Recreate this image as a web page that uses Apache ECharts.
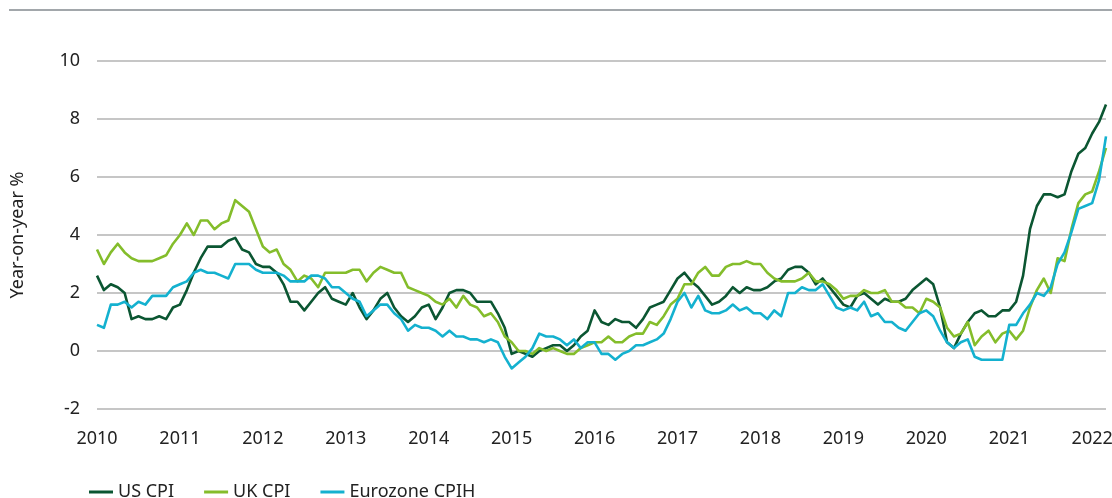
<!DOCTYPE html>
<html>
<head>
<meta charset="utf-8">
<script src="https://cdn.jsdelivr.net/npm/echarts@6/dist/echarts.min.js"></script>
<style>
html,body{margin:0;padding:0;background:#fff;}
#chart{width:1112px;height:498px;}
</style>
</head>
<body>
<div id="chart"></div>
<script>
// Monthly, Jan 2010 – Mar 2022
const startYear = 2010;
const monthCount = 147;
const categories = [];
for (let i = 0; i < monthCount; i++) {
  const y = startYear + Math.floor(i / 12);
  const m = (i % 12) + 1;
  categories.push(y + '-' + (m < 10 ? '0' + m : m));
}

const usCPI = [
  2.6, 2.1, 2.3, 2.2, 2.0, 1.1, 1.2, 1.1, 1.1, 1.2, 1.1, 1.5,
  1.6, 2.1, 2.7, 3.2, 3.6, 3.6, 3.6, 3.8, 3.9, 3.5, 3.4, 3.0,
  2.9, 2.9, 2.7, 2.3, 1.7, 1.7, 1.4, 1.7, 2.0, 2.2, 1.8, 1.7,
  1.6, 2.0, 1.5, 1.1, 1.4, 1.8, 2.0, 1.5, 1.2, 1.0, 1.2, 1.5,
  1.6, 1.1, 1.5, 2.0, 2.1, 2.1, 2.0, 1.7, 1.7, 1.7, 1.3, 0.8,
  -0.1, 0.0, -0.1, -0.2, 0.0, 0.1, 0.2, 0.2, 0.0, 0.2, 0.5, 0.7,
  1.4, 1.0, 0.9, 1.1, 1.0, 1.0, 0.8, 1.1, 1.5, 1.6, 1.7, 2.1,
  2.5, 2.7, 2.4, 2.2, 1.9, 1.6, 1.7, 1.9, 2.2, 2.0, 2.2, 2.1,
  2.1, 2.2, 2.4, 2.5, 2.8, 2.9, 2.9, 2.7, 2.3, 2.5, 2.2, 1.9,
  1.6, 1.5, 1.9, 2.0, 1.8, 1.6, 1.8, 1.7, 1.7, 1.8, 2.1, 2.3,
  2.5, 2.3, 1.5, 0.3, 0.1, 0.6, 1.0, 1.3, 1.4, 1.2, 1.2, 1.4,
  1.4, 1.7, 2.6, 4.2, 5.0, 5.4, 5.4, 5.3, 5.4, 6.2, 6.8, 7.0,
  7.5, 7.9, 8.5
];

const ukCPI = [
  3.5, 3.0, 3.4, 3.7, 3.4, 3.2, 3.1, 3.1, 3.1, 3.2, 3.3, 3.7,
  4.0, 4.4, 4.0, 4.5, 4.5, 4.2, 4.4, 4.5, 5.2, 5.0, 4.8, 4.2,
  3.6, 3.4, 3.5, 3.0, 2.8, 2.4, 2.6, 2.5, 2.2, 2.7, 2.7, 2.7,
  2.7, 2.8, 2.8, 2.4, 2.7, 2.9, 2.8, 2.7, 2.7, 2.2, 2.1, 2.0,
  1.9, 1.7, 1.6, 1.8, 1.5, 1.9, 1.6, 1.5, 1.2, 1.3, 1.0, 0.5,
  0.3, 0.0, 0.0, -0.1, 0.1, 0.0, 0.1, 0.0, -0.1, -0.1, 0.1, 0.2,
  0.3, 0.3, 0.5, 0.3, 0.3, 0.5, 0.6, 0.6, 1.0, 0.9, 1.2, 1.6,
  1.8, 2.3, 2.3, 2.7, 2.9, 2.6, 2.6, 2.9, 3.0, 3.0, 3.1, 3.0,
  3.0, 2.7, 2.5, 2.4, 2.4, 2.4, 2.5, 2.7, 2.4, 2.4, 2.3, 2.1,
  1.8, 1.9, 1.9, 2.1, 2.0, 2.0, 2.1, 1.7, 1.7, 1.5, 1.5, 1.3,
  1.8, 1.7, 1.5, 0.8, 0.5, 0.6, 1.0, 0.2, 0.5, 0.7, 0.3, 0.6,
  0.7, 0.4, 0.7, 1.5, 2.1, 2.5, 2.0, 3.2, 3.1, 4.2, 5.1, 5.4,
  5.5, 6.2, 7.0
];

const euroCPIH = [
  0.9, 0.8, 1.6, 1.6, 1.7, 1.5, 1.7, 1.6, 1.9, 1.9, 1.9, 2.2,
  2.3, 2.4, 2.7, 2.8, 2.7, 2.7, 2.6, 2.5, 3.0, 3.0, 3.0, 2.8,
  2.7, 2.7, 2.7, 2.6, 2.4, 2.4, 2.4, 2.6, 2.6, 2.5, 2.2, 2.2,
  2.0, 1.8, 1.7, 1.2, 1.4, 1.6, 1.6, 1.3, 1.1, 0.7, 0.9, 0.8,
  0.8, 0.7, 0.5, 0.7, 0.5, 0.5, 0.4, 0.4, 0.3, 0.4, 0.3, -0.2,
  -0.6, -0.4, -0.2, 0.1, 0.6, 0.5, 0.5, 0.4, 0.2, 0.4, 0.1, 0.3,
  0.3, -0.1, -0.1, -0.3, -0.1, 0.0, 0.2, 0.2, 0.3, 0.4, 0.6, 1.1,
  1.7, 2.0, 1.5, 1.9, 1.4, 1.3, 1.3, 1.4, 1.6, 1.4, 1.5, 1.3,
  1.3, 1.1, 1.4, 1.2, 2.0, 2.0, 2.2, 2.1, 2.1, 2.3, 1.9, 1.5,
  1.4, 1.5, 1.4, 1.7, 1.2, 1.3, 1.0, 1.0, 0.8, 0.7, 1.0, 1.3,
  1.4, 1.2, 0.7, 0.3, 0.1, 0.3, 0.4, -0.2, -0.3, -0.3, -0.3, -0.3,
  0.9, 0.9, 1.3, 1.6, 2.0, 1.9, 2.2, 3.0, 3.4, 4.1, 4.9, 5.0,
  5.1, 5.9, 7.4
];

const yTicks = { min: -2, max: 10, interval: 2 };
const seriesNames = ['US CPI', 'UK CPI', 'Eurozone CPIH'];
const colors = ['#0b5632', '#84bd2b', '#14b1cf'];

const FONT = '"Noto Sans", "Open Sans", sans-serif';

const chart = echarts.init(document.getElementById('chart'), null, { renderer: 'canvas' });

function mkSeries(name, data, color) {
  return {
    name: name,
    type: 'line',
    data: data,
    symbol: 'none',
    smooth: false,
    lineStyle: { color: color, width: 2.6, join: 'round' },
    itemStyle: { color: color },
    emphasis: { disabled: true },
    animation: false
  };
}

chart.setOption({
  animation: false,
  backgroundColor: '#ffffff',
  color: colors,
  graphic: [{
    type: 'line',
    shape: { x1: 9, y1: 10, x2: 1112, y2: 10 },
    style: { stroke: '#a2a7ab', lineWidth: 2 },
    silent: true
  }],
  grid: { left: 97, right: 6, top: 61, bottom: 89, containLabel: false, outerBoundsMode: 'none' },
  xAxis: {
    type: 'category',
    data: categories,
    boundaryGap: false,
    axisLine: { show: false },
    axisTick: { show: false },
    splitLine: { show: false },
    axisLabel: {
      interval: function (idx) { return idx % 12 === 0; },
      formatter: function (v) { return v.slice(5) === '01' ? v.slice(0, 4) : ''; },
      color: '#222',
      fontSize: 18,
      fontFamily: FONT,
      margin: 21,
      hideOverlap: false,
      showMinLabel: true,
      showMaxLabel: true
    }
  },
  yAxis: {
    type: 'value',
    min: yTicks.min,
    max: yTicks.max,
    interval: yTicks.interval,
    name: 'Year-on-year %',
    nameLocation: 'middle',
    nameGap: 70,
    nameTextStyle: { color: '#222', fontSize: 18, fontFamily: FONT },
    axisLine: { show: false },
    axisTick: { show: false },
    axisLabel: { color: '#222', fontSize: 18, fontFamily: FONT, margin: 17 },
    splitLine: { lineStyle: { color: '#b3b3b3', width: 1.6 } }
  },
  legend: {
    data: seriesNames,
    left: 84,
    top: 478,
    icon: 'rect',
    itemWidth: 24,
    itemHeight: 3,
    itemGap: 30,
    textStyle: { color: '#222', fontSize: 18, fontFamily: FONT },
    selectedMode: false
  },
  series: [
    mkSeries(seriesNames[0], usCPI, colors[0]),
    mkSeries(seriesNames[1], ukCPI, colors[1]),
    mkSeries(seriesNames[2], euroCPIH, colors[2])
  ]
});
</script>
</body>
</html>
